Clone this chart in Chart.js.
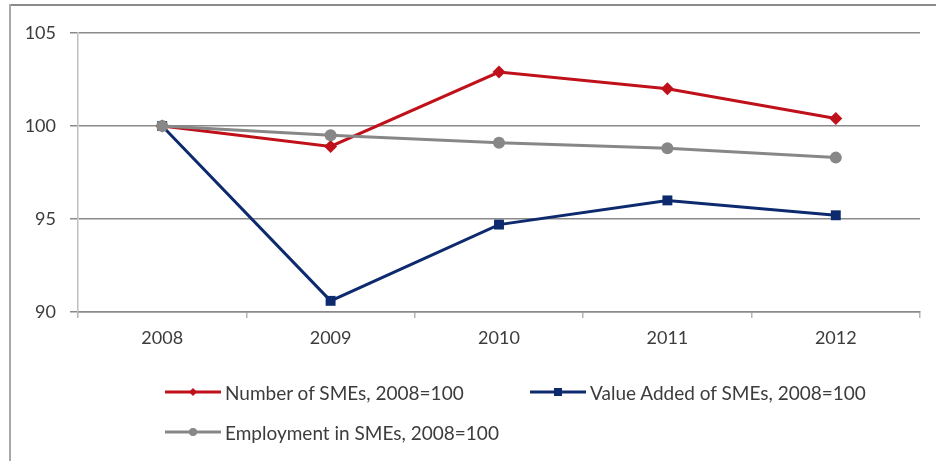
<!DOCTYPE html>
<html>
<head>
<meta charset="utf-8">
<script src="https://cdn.jsdelivr.net/npm/chart.js@4/dist/chart.umd.min.js"></script>
<style>
  html, body { margin: 0; padding: 0; background: #fff; }
  body { width: 936px; height: 461px; position: relative; overflow: hidden; font-family: Lato, "Liberation Sans", sans-serif; }
  #topBorder { position: absolute; left: 9px; top: 4px; width: 927px; height: 2px; background: #8a8a8a; }
  #leftBorder { position: absolute; left: 9px; top: 4px; width: 2px; height: 457px; background: #a8a8a8; }
  #wrap { position: absolute; left: 0; top: 0; width: 936px; height: 360px; }
  #legend { position: absolute; left: 0; top: 0; width: 936px; height: 461px; pointer-events: none; }
  .item { position: absolute; display: flex; align-items: center; font-size: 19px; color: #3c3c3c; white-space: nowrap; }
  .item canvas { margin-right: 4px; }
</style>
</head>
<body>
<div id="topBorder"></div>
<div id="leftBorder"></div>
<div id="wrap"><canvas id="c"></canvas></div>
<div id="legend"></div>
<script>
const categories = ["2008", "2009", "2010", "2011", "2012"];
const numberSMEs = [100, 98.9, 102.9, 102.0, 100.4];
const valueAddedSMEs = [100, 90.6, 94.7, 96.0, 95.2];
const employmentSMEs = [100, 99.5, 99.1, 98.8, 98.3];
const seriesLabels = ["Number of SMEs, 2008=100", "Value Added of SMEs, 2008=100", "Employment in SMEs, 2008=100"];
const yTicks = [90, 95, 100, 105];

const RED = "#c0111b", BLUE = "#0d2a6e", GRAY = "#878787";

const datasets = [
  { label: seriesLabels[0], data: numberSMEs, borderColor: RED, backgroundColor: RED, pointStyle: "rectRot", pointRadius: 6.5, borderWidth: 3, order: 1 },
  { label: seriesLabels[1], data: valueAddedSMEs, borderColor: BLUE, backgroundColor: BLUE, pointStyle: "rect", pointRadius: 7, borderWidth: 3, order: 2 },
  { label: seriesLabels[2], data: employmentSMEs, borderColor: GRAY, backgroundColor: GRAY, pointStyle: "circle", pointRadius: 6, borderWidth: 3, order: 0 }
];

const tickFont = { family: "Lato, 'Liberation Sans', sans-serif", size: 18 };

new Chart(document.getElementById("c"), {
  type: "line",
  data: { labels: categories, datasets: datasets.map(d => Object.assign({ tension: 0, pointBorderWidth: 0, pointHoverRadius: 6 }, d)) },
  options: {
    responsive: true,
    maintainAspectRatio: false,
    animation: false,
    layout: { padding: { top: 33, right: 16, left: 0, bottom: 0 } },
    plugins: { legend: { display: false }, tooltip: { enabled: false }, title: { display: false } },
    scales: {
      x: {
        offset: true,
        grid: { offset: true, drawOnChartArea: false, tickLength: 6, color: "#b5b5b5", lineWidth: 1.5 },
        border: { display: true, color: "#8a8a8a", width: 1.5 },
        ticks: { color: "#3c3c3c", font: tickFont, padding: 9 },
        afterFit: s => { s.height = 48; }
      },
      y: {
        min: 90, max: 105,
        afterBuildTicks: s => { s.ticks = yTicks.map(v => ({ value: v })); },
        grid: { color: "#8a8a8a", lineWidth: 1.5, tickLength: 8 },
        border: { display: true, color: "#c0c0c0", width: 1.5 },
        ticks: { color: "#3c3c3c", font: tickFont, padding: 14 },
        afterFit: s => { s.width = 78; }
      }
    }
  }
});

// Legend built from the series arrays
const legendPos = [
  { left: 165, top: 392 },
  { left: 530, top: 392 },
  { left: 165, top: 432 }
];
const legend = document.getElementById("legend");
datasets.forEach((d, i) => {
  const item = document.createElement("div");
  item.className = "item";
  item.style.left = legendPos[i].left + "px";
  item.style.top = (legendPos[i].top - 12) + "px";
  item.style.height = "24px";
  const sw = document.createElement("canvas");
  sw.width = 56; sw.height = 16;
  const g = sw.getContext("2d");
  g.strokeStyle = d.borderColor; g.lineWidth = 3;
  g.beginPath(); g.moveTo(0, 8); g.lineTo(56, 8); g.stroke();
  g.fillStyle = d.borderColor;
  if (d.pointStyle === "rectRot") { g.beginPath(); g.moveTo(28, 4); g.lineTo(32, 8); g.lineTo(28, 12); g.lineTo(24, 8); g.closePath(); g.fill(); }
  else if (d.pointStyle === "rect") { g.fillRect(24, 4, 8, 8); }
  else { g.beginPath(); g.arc(28, 8, 4, 0, Math.PI * 2); g.fill(); }
  item.appendChild(sw);
  const t = document.createElement("span");
  t.textContent = d.label;
  item.appendChild(t);
  legend.appendChild(item);
});
</script>
</body>
</html>
